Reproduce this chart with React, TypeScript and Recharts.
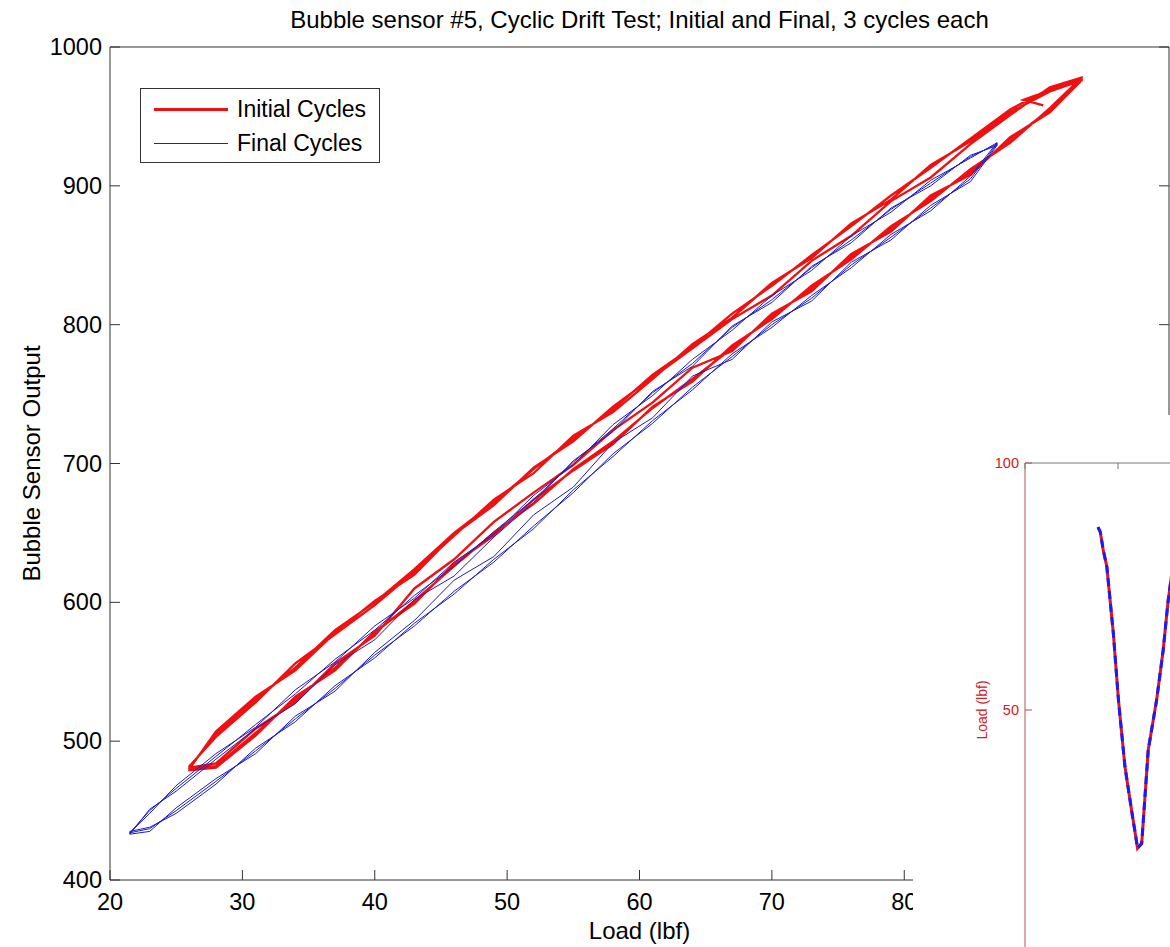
import { LineChart, Line, XAxis, YAxis, Legend } from 'recharts';

const TITLE = 'Bubble sensor #5, Cyclic Drift Test; Initial and Final, 3 cycles each';
const SERIES_NAMES = ['Initial Cycles', 'Final Cycles'];
const X_TICKS = [20, 30, 40, 50, 60, 70, 80, 90, 100];
const X_LABELED_MAX = 80; // labels past this sit under the pasted inset
const Y_TICKS = [400, 500, 600, 700, 800, 900, 1000];

// initial cycles (red): shared load samples, one rising and one falling strand per cycle
const RED_LOAD = [26, 28, 31, 34, 37, 40, 43, 46, 49, 52, 55, 58, 61, 64, 67, 70, 73, 76, 79, 82, 85, 88, 91, 93.4];
const RED_RISE_1 = [480, 482, 506, 530, 553, 578, 601, 626, 650, 671, 696, 716, 740, 761, 783, 806, 826, 849, 869, 891, 910, 933, 955, 977];
const RED_FALL_1 = [481, 505, 530, 553, 580, 600, 624, 650, 672, 696, 718, 739, 764, 784, 808, 828, 850, 871, 893, 913, 934, 955, 970, 977];
const RED_RISE_2 = [481, 484, 509, 528, 556, 576, 610, 631, 658, 679, 699, 724, 744, 769, 781, 808, 824, 851, 867, 893, 908, 935, 953, 976];
const RED_FALL_2 = [482, 503, 528, 556, 577, 598, 622, 648, 674, 693, 720, 737, 761, 786, 805, 830, 848, 873, 890, 915, 932, 953, 968, 976];
const RED_RISE_3 = [479, 481, 504, 532, 551, 579, 599, 628, 648, 674, 695, 714, 741, 759, 785, 804, 828, 847, 871, 889, 912, 931, 956, 978];
const RED_FALL_3 = [480, 507, 532, 551, 578, 601, 620, 649, 670, 697, 716, 741, 762, 783, 804, 821, 846, 864, 889, 906, 930, 951, 971, 978];
const RED_SPUR_LOAD = [90.5, 89];
const RED_SPUR_OUT = [958, 962];

// final cycles (blue)
const BLUE_LOAD = [21.5, 23, 25, 28, 31, 34, 37, 40, 43, 46, 49, 52, 55, 58, 61, 64, 67, 70, 73, 76, 79, 82, 85, 87];
const BLUE_RISE_1 = [434, 437, 450, 471, 493, 516, 538, 562, 583, 608, 629, 655, 679, 707, 729, 755, 777, 800, 819, 843, 863, 884, 905, 930];
const BLUE_FALL_1 = [434, 450, 466, 489, 512, 534, 559, 580, 605, 626, 651, 674, 701, 725, 751, 772, 798, 818, 841, 861, 883, 902, 921, 930];
const BLUE_RISE_2 = [433, 435, 452, 473, 491, 518, 536, 564, 587, 616, 633, 663, 683, 715, 733, 763, 775, 802, 817, 845, 861, 886, 903, 929];
const BLUE_FALL_2 = [434, 448, 468, 491, 510, 537, 557, 583, 603, 629, 649, 677, 699, 728, 749, 775, 796, 821, 839, 864, 881, 904, 920, 931];
const BLUE_RISE_3 = [435, 438, 448, 469, 495, 514, 540, 560, 585, 606, 631, 653, 681, 705, 731, 753, 779, 798, 821, 841, 865, 882, 907, 931];
const BLUE_FALL_3 = [433, 451, 464, 487, 509, 527, 555, 573, 602, 619, 647, 672, 702, 723, 752, 770, 799, 816, 842, 859, 884, 900, 922, 929];

// pasted inset: load vs time
const INSET_TIME = [15.7, 16.2, 16.8, 17.6, 19.0, 20.1, 21.5, 22.9, 23.8, 24.2, 25.1, 26.5, 28.3, 29.7, 30.8, 32.5, 34.5];
const INSET_LOAD = [87.0, 86.0, 82.5, 79.0, 65.5, 52.0, 38.5, 29.8, 24.5, 22.0, 23.0, 41.9, 52.0, 62.0, 72.3, 84.0, 88.0];
const INSET_X_TICKS = [0, 20, 40, 60];
const INSET_Y_TICKS = [50, 100];

const FONT = '"Liberation Sans", Arial, sans-serif';
const AXIS = '#333';
const RED = '#f01010';
const BLUE = '#1c1cc8';
const INSET_RED = '#d42020';

const strand = (xs: number[], ys: number[]) => xs.map((x, i) => ({ x, y: ys[i] }));

const initialPath = [
  ...strand(RED_SPUR_LOAD, RED_SPUR_OUT),
  ...strand(RED_LOAD, RED_FALL_1).reverse(),
  ...strand(RED_LOAD, RED_RISE_1),
  ...strand(RED_LOAD, RED_FALL_2).reverse(),
  ...strand(RED_LOAD, RED_RISE_2),
  ...strand(RED_LOAD, RED_FALL_3).reverse(),
  ...strand(RED_LOAD, RED_RISE_3),
];

const finalPath = [
  ...strand(BLUE_LOAD, BLUE_RISE_1),
  ...strand(BLUE_LOAD, BLUE_FALL_1).reverse(),
  ...strand(BLUE_LOAD, BLUE_RISE_2),
  ...strand(BLUE_LOAD, BLUE_FALL_2).reverse(),
  ...strand(BLUE_LOAD, BLUE_RISE_3),
  ...strand(BLUE_LOAD, BLUE_FALL_3).reverse(),
];

const insetData = strand(INSET_TIME, INSET_LOAD);

// matlab style ticks point inward
const BottomTick = ({ x, y, payload }: any) => (
  <g>
    <line x1={x} x2={x} y1={y} y2={y - 10} stroke={AXIS} />
    {payload.value <= X_LABELED_MAX && (
      <text x={x} y={y + 30} textAnchor="middle" fontSize={23.5} fontFamily={FONT} fill="#000">{payload.value}</text>
    )}
  </g>
);
const TopTick = ({ x, y }: any) => <line x1={x} x2={x} y1={y} y2={y + 10} stroke={AXIS} />;
const LeftTick = ({ x, y, payload }: any) => (
  <g>
    <line x1={x} x2={x + 10} y1={y} y2={y} stroke={AXIS} />
    <text x={x - 8} y={y + 8} textAnchor="end" fontSize={23.5} fontFamily={FONT} fill="#000">{payload.value}</text>
  </g>
);
const RightTick = ({ x, y }: any) => <line x1={x} x2={x - 10} y1={y} y2={y} stroke={AXIS} />;

const InsetLeftTick = ({ x, y, payload }: any) => (
  <g>
    <line x1={x} x2={x + 7} y1={y} y2={y} stroke="#b35555" />
    <text x={x - 6} y={y + 5} textAnchor="end" fontSize={14.5} fontFamily={FONT} fill={INSET_RED}>{payload.value}</text>
  </g>
);
const InsetTopTick = ({ x, y }: any) => <line x1={x} x2={x} y1={y} y2={y + 6} stroke="#777" />;

const LegendBox = ({ payload }: any) => {
  const items = [...(payload || [])].sort((a: any, b: any) => SERIES_NAMES.indexOf(a.value) - SERIES_NAMES.indexOf(b.value));
  return (
    <div style={{ position: 'relative', width: 240, height: 75, boxSizing: 'border-box', border: `1px solid ${AXIS}`, background: '#fff', fontFamily: FONT, fontSize: 23, color: '#000' }}>
      {items.map((entry: any, i: number) => (
        <div key={entry.value} style={{ position: 'absolute', left: 13, top: 3 + i * 34, height: 34, display: 'flex', alignItems: 'center' }}>
          <div style={{ width: 74, height: 0, borderTop: `${entry.color === RED ? 3 : 1}px solid ${entry.color}`, marginRight: 9 }} />
          <span>{entry.value}</span>
        </div>
      ))}
    </div>
  );
};

export default function App() {
  return (
    <div style={{ position: 'absolute', left: 0, top: 0, width: 1170, height: 947, background: '#fff' }}>
      <LineChart width={1170} height={947} margin={{ top: 0, right: 0, bottom: 0, left: 0 }}>
        <XAxis
          type="number" dataKey="x" domain={[20, 100]} ticks={X_TICKS} interval={0} allowDataOverflow
          height={67} tickSize={0} tickMargin={0} tick={BottomTick} axisLine={{ stroke: AXIS }} tickLine={false}
          label={{ value: 'Load (lbf)', position: 'insideBottom', offset: 8, fontSize: 24, fill: '#000', fontFamily: FONT }}
        />
        <XAxis
          xAxisId="top" orientation="top" type="number" domain={[20, 100]} ticks={X_TICKS} interval={0} allowDataOverflow
          height={47} tickSize={0} tickMargin={0} tick={TopTick} axisLine={{ stroke: AXIS }} tickLine={false}
          label={{ value: TITLE, position: 'insideTop', offset: 11, fontSize: 24, fill: '#000', fontFamily: FONT }}
        />
        <YAxis
          type="number" domain={[400, 1000]} ticks={Y_TICKS} interval={0} allowDataOverflow
          width={110} tickSize={0} tickMargin={0} tick={LeftTick} axisLine={{ stroke: AXIS }} tickLine={false}
          label={{ value: 'Bubble Sensor Output', angle: -90, position: 'insideLeft', offset: 31, style: { textAnchor: 'middle' }, fontSize: 24, fill: '#000', fontFamily: FONT }}
        />
        <YAxis
          yAxisId="right" orientation="right" type="number" domain={[400, 1000]} ticks={Y_TICKS} interval={0} allowDataOverflow
          width={1} tickSize={0} tickMargin={0} tick={RightTick} axisLine={{ stroke: AXIS }} tickLine={false}
        />
        <Legend
          layout="horizontal" verticalAlign="middle" align="center"
          wrapperStyle={{ left: 140, top: 88, width: 240, height: 75 }}
          content={LegendBox}
        />
        <Line data={initialPath} dataKey="y" name="Initial Cycles" stroke={RED} strokeWidth={2.3} dot={false} type="linear" isAnimationActive={false} />
        <Line data={finalPath} dataKey="y" name="Final Cycles" stroke={BLUE} strokeWidth={1} dot={false} type="linear" isAnimationActive={false} />
      </LineChart>

      <div style={{ position: 'absolute', left: 913, top: 415, width: 257, height: 532, overflow: 'hidden', background: '#fff' }}>
        <LineChart width={420} height={580} data={insetData} margin={{ top: 0, right: 29, bottom: 38, left: 0 }}>
          <XAxis
            orientation="top" type="number" dataKey="x" domain={[0, 60]} ticks={INSET_X_TICKS} interval={0} allowDataOverflow
            height={48} tickSize={0} tickMargin={0} tick={InsetTopTick} axisLine={{ stroke: '#777' }} tickLine={false}
          />
          <YAxis
            type="number" domain={[0, 100]} ticks={INSET_Y_TICKS} interval={0} allowDataOverflow
            width={112} tickSize={0} tickMargin={0} tick={InsetLeftTick} axisLine={{ stroke: '#b35555' }} tickLine={false}
            label={{ value: 'Load (lbf)', angle: -90, position: 'insideLeft', offset: 69, style: { textAnchor: 'middle' }, fontSize: 14, fill: INSET_RED, fontFamily: FONT }}
          />
          <Line dataKey="y" stroke="#e0141e" strokeWidth={3} dot={false} type="linear" isAnimationActive={false} />
          <Line dataKey="y" stroke="#1a1aff" strokeWidth={3} strokeDasharray="8 5" dot={false} type="linear" isAnimationActive={false} />
        </LineChart>
      </div>
    </div>
  );
}
